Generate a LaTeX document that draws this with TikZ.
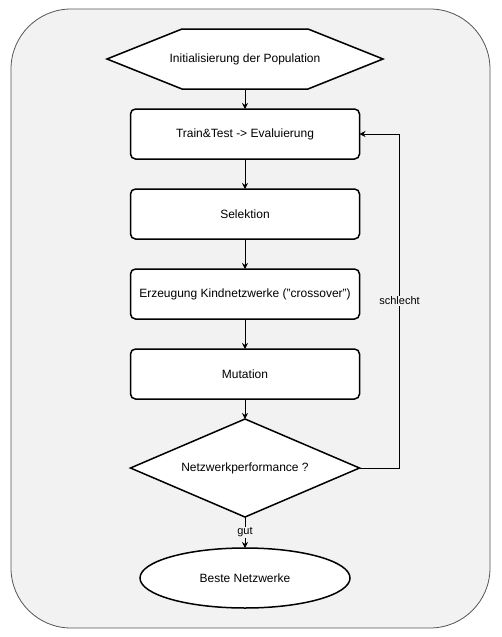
\documentclass[tikz,border=0pt]{standalone}
\usepackage{fontspec}
\setmainfont{Liberation Sans}
\usepackage{tikz}
\usepackage{xcolor}
\usetikzlibrary{shapes.geometric, shapes.symbols}
\usetikzlibrary{positioning, arrows.meta}

\definecolor{bggrey}{HTML}{F2F2F2}
\definecolor{framegrey}{HTML}{555555}

\begin{document}
\begin{tikzpicture}[node distance={30pt}, font=\fontsize{12}{14}\selectfont,
    stepbox/.style = {draw, line width=1.5pt, fill=white, rounded corners=5pt, minimum width=229pt, minimum height=50pt, inner sep=0pt, outer sep=0pt},
    startbox/.style = {draw, line width=1.5pt, fill=white, signal, signal to=west and east, signal pointer angle=43.6, minimum height=60pt, inner sep=0pt, outer sep=0pt},
    checkbox/.style = {draw, line width=1.5pt, fill=white, diamond, aspect=2.337, minimum width=229pt, minimum height=98pt, inner sep=0pt, outer sep=0pt},
    finishbox/.style = {draw, line width=1.5pt, fill=white, ellipse, minimum width=210pt, minimum height=60pt, inner sep=0pt, outer sep=0pt},
    arrow/.style = {draw, line width=0.8pt, -{Stealth[length=6pt, width=6pt]}},
    edgelabel/.style = {fill=bggrey, inner sep=1pt, font=\fontsize{11}{13}\selectfont}]
    % Frame
    \useasboundingbox (0,0) rectangle (501pt,-637pt);
    \draw[framegrey, fill=bggrey, line width=0.8pt, rounded corners=60pt] (11pt,-9pt) rectangle (490pt,-628pt);

    % Nodes
    \node[startbox] (init) at (245pt,-59pt) {\makebox[126pt]{Initialisierung der Population}};
    \node[stepbox] (eval) [below=20pt of init] {Train\&Test -> Evaluierung};
    \node[stepbox] (sel) [below=of eval] {Selektion};
    \node[stepbox] (cross) [below=of sel] {Erzeugung Kindnetzwerke ("crossover")};
    \node[stepbox] (mut) [below=of cross] {Mutation};
    \node[checkbox] (net) [below=20pt of mut] {Netzwerkperformance ?};
    \node[finishbox] (best) [below=31pt of net] {Beste Netzwerke};

    % Lines
    \draw[arrow] (init) -- (eval);
    \draw[arrow] (eval) -- (sel);
    \draw[arrow] (sel) -- (cross);
    \draw[arrow] (cross) -- (mut);
    \draw[arrow] (mut) -- (net);
    \draw[arrow] (net) -- node[edgelabel] {gut} (best);
    \draw[arrow] (net.east) -- ++(40pt,0) |- node[edgelabel, pos=0.25] {schlecht} (eval.east);
\end{tikzpicture}
\end{document}
